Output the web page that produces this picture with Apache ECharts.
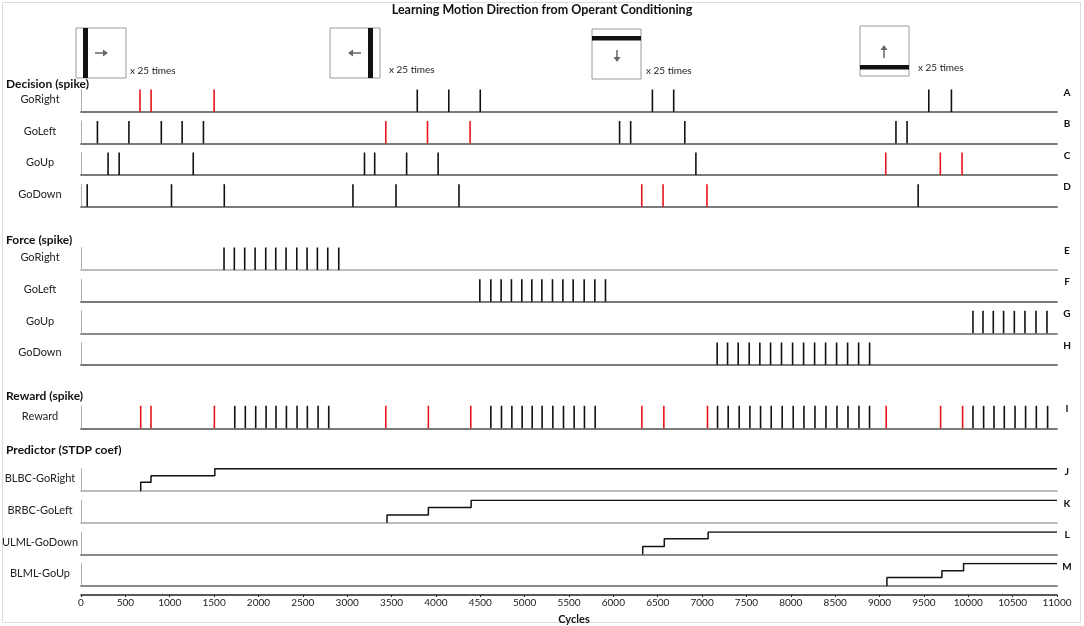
<!DOCTYPE html>
<html>
<head>
<meta charset="utf-8">
<script src="https://cdn.jsdelivr.net/npm/echarts@6/dist/echarts.min.js"></script>
<style>
  html, body { margin: 0; padding: 0; background: #fff; }
  #chart { width: 1084px; height: 626px; }
</style>
</head>
<body>
<div id="chart"></div>
<script>
// spike times (cycles)
var decRightBlack = [3790, 4145, 4500, 6440, 6680, 9555, 9810];
var decRightRed = [665, 790, 1500];
var decLeftBlack = [185, 540, 905, 1140, 1380, 6070, 6195, 6805, 9185, 9310];
var decLeftRed = [3435, 3905, 4385];
var decUpBlack = [305, 430, 1265, 3195, 3310, 3670, 4025, 6930];
var decUpRed = [9070, 9685, 9930];
var decDownBlack = [70, 1020, 1615, 3065, 3550, 4260, 9435];
var decDownRed = [6320, 6560, 7055];

var forceRight = [1612, 1728, 1845, 1962, 2082, 2195, 2311, 2432, 2548, 2664, 2781, 2905];
var forceLeft = [4495, 4619, 4735, 4851, 4968, 5081, 5194, 5314, 5431, 5547, 5671, 5791, 5911];
var forceUp = [10053, 10166, 10282, 10398, 10519, 10639, 10763, 10887];
var forceDown = [7170, 7287, 7407, 7531, 7651, 7772, 7895, 8020, 8144, 8268, 8392, 8516, 8640, 8764, 8888];

var rewardRed = [673, 789, 1503, 3435, 3915, 4393, 6321, 6569, 7061, 9075, 9688, 9936];
var rewardBlack = [1733, 1852, 1969, 2086, 2198, 2315, 2435, 2551, 2672, 2792,
  4619, 4739, 4856, 4972, 5085, 5197, 5318, 5438, 5558, 5674, 5795,
  7174, 7294, 7418, 7539, 7659, 7779, 7903, 8027, 8148, 8272, 8396, 8520, 8644, 8768, 8887,
  10053, 10173, 10290, 10406, 10527, 10646, 10767, 10894];

// predictor step times and levels
var stepJ = [673, 789, 1508];
var levelJ = [0.4, 0.69, 1];
var stepK = [3449, 3915, 4397];
var levelK = [0.35, 0.68, 1];
var stepL = [6331, 6574, 7068];
var levelL = [0.36, 0.7, 1];
var stepM = [9083, 9703, 9947];
var levelM = [0.38, 0.68, 1];

var rowLabels = ['GoRight', 'GoLeft', 'GoUp', 'GoDown', 'GoRight', 'GoLeft', 'GoUp', 'GoDown',
  'Reward', 'BLBC-GoRight', 'BRBC-GoLeft', 'ULML-GoDown', 'BLML-GoUp'];
var rowLetters = ['A', 'B', 'C', 'D', 'E', 'F', 'G', 'H', 'I', 'J', 'K', 'L', 'M'];
var xMax = 11000;
var xInterval = 500;

// layout
var rowBase = [112, 143.5, 175, 206.7, 270, 301.7, 333.3, 365, 428.3, 491.2, 522.8, 554.5, 586];
var rowH = 22.5;
var plotLeft = 81, plotWidth = 976;
var baseColors = ['#7a7a7a', '#7a7a7a', '#7a7a7a', '#7a7a7a', '#bdbdbd', '#7a7a7a', '#8a8a8a', '#7a7a7a',
  '#7a7a7a', '#bdbdbd', '#bdbdbd', '#8a8a8a', '#8a8a8a'];
var BLACK = '#111', RED = '#e8141b';
var FONT = 'Lato';

var chart = echarts.init(document.getElementById('chart'));

function pts(arr) {
  return arr.map(function (t) { return [t, 1]; });
}
function stepData(times, levels) {
  var d = [[times[0], 0]];
  for (var i = 0; i < times.length; i++) d.push([times[i], levels[i]]);
  d.push([xMax, levels[levels.length - 1]]);
  return d;
}
function spikeRender(params, api) {
  var x = api.value(0);
  var p0 = api.coord([x, 0]);
  var p1 = api.coord([x, 1]);
  return {
    type: 'line',
    shape: { x1: p0[0], y1: p0[1], x2: p1[0], y2: p1[1] },
    style: { stroke: api.visual('color'), lineWidth: 1.6 }
  };
}

var grids = [], xAxes = [], yAxes = [], series = [];
rowBase.forEach(function (b, i) {
  grids.push({ left: plotLeft, width: plotWidth, top: b - rowH, height: rowH });
  xAxes.push({
    gridIndex: i, type: 'value', min: 0, max: xMax,
    axisLine: { show: true, lineStyle: { color: baseColors[i], width: 1.8 } },
    axisTick: { show: false }, axisLabel: { show: false }, splitLine: { show: false }
  });
  yAxes.push({
    gridIndex: i, type: 'value', min: 0, max: 1,
    axisLine: { show: true, onZero: false, lineStyle: { color: '#b0b0b0', width: 1 } },
    axisTick: { show: false }, axisLabel: { show: false }, splitLine: { show: false }
  });
});

// bottom cycles axis
xAxes.push({
  gridIndex: 12, type: 'value', min: 0, max: xMax, interval: xInterval,
  position: 'bottom', offset: 9,
  axisLine: { show: true, lineStyle: { color: '#222', width: 1.5 } },
  axisTick: { show: true, length: 2, lineStyle: { color: '#222' } },
  axisLabel: { show: true, fontSize: 10, color: '#222', margin: 3, fontFamily: FONT,
    formatter: function (v) { return String(v); } },
  splitLine: { show: false },
  name: 'Cycles', nameLocation: 'middle', nameGap: 19,
  nameTextStyle: { fontSize: 11, fontWeight: 'bold', color: '#111', fontFamily: FONT, padding: [0, 0, 0, 10] }
});

function spikes(i, arr, color) {
  series.push({
    type: 'custom', xAxisIndex: i, yAxisIndex: i, renderItem: spikeRender,
    itemStyle: { color: color }, data: pts(arr), silent: true, z: 3
  });
}
spikes(0, decRightBlack, BLACK); spikes(0, decRightRed, RED);
spikes(1, decLeftBlack, BLACK); spikes(1, decLeftRed, RED);
spikes(2, decUpBlack, BLACK); spikes(2, decUpRed, RED);
spikes(3, decDownBlack, BLACK); spikes(3, decDownRed, RED);
spikes(4, forceRight, BLACK);
spikes(5, forceLeft, BLACK);
spikes(6, forceUp, BLACK);
spikes(7, forceDown, BLACK);
spikes(8, rewardBlack, BLACK); spikes(8, rewardRed, RED);

[[stepJ, levelJ], [stepK, levelK], [stepL, levelL], [stepM, levelM]].forEach(function (s, k) {
  var idx = 9 + k;
  series.push({
    type: 'line', xAxisIndex: idx, yAxisIndex: idx, step: 'end', showSymbol: false,
    lineStyle: { color: BLACK, width: 1.5 }, data: stepData(s[0], s[1]), silent: true, z: 3
  });
});

// graphics: title, headers, labels, letters, stimulus boxes
var g = [];
g.push({ type: 'rect', shape: { x: 2.5, y: 2.5, width: 1078, height: 620 }, style: { fill: 'none', stroke: '#dcdcdc', lineWidth: 1 }, silent: true });
g.push({ type: 'text', x: 542, y: 10, style: { text: 'Learning Motion Direction from Operant Conditioning', font: 'bold 12.5px ' + FONT, fill: '#111', textAlign: 'center', textVerticalAlign: 'middle' } });

var headers = [['Decision (spike)', 84], ['Force (spike)', 240], ['Reward (spike)', 396], ['Predictor (STDP coef)', 450]];
headers.forEach(function (h) {
  g.push({ type: 'text', x: 6, y: h[1], style: { text: h[0], font: 'bold 12px ' + FONT, fill: '#111', textVerticalAlign: 'middle' } });
});
rowLabels.forEach(function (lab, i) {
  g.push({ type: 'text', x: 40, y: rowBase[i] - rowH / 2 - 1, style: { text: lab, font: '11px ' + FONT, fill: '#222', textAlign: 'center', textVerticalAlign: 'middle' } });
  g.push({ type: 'text', x: 1067, y: rowBase[i] - rowH + 3, style: { text: rowLetters[i], font: 'bold 10px ' + FONT, fill: '#111', textAlign: 'center', textVerticalAlign: 'middle' } });
});

var boxStroke = '#9a9a9a', arrowCol = '#666';
function box(x, y, w, h) {
  g.push({ type: 'rect', shape: { x: x, y: y, width: w, height: h }, style: { fill: '#fff', stroke: boxStroke, lineWidth: 1 } });
}
function bar(x, y, w, h) {
  g.push({ type: 'rect', shape: { x: x, y: y, width: w, height: h }, style: { fill: '#111' } });
}
function arrow(x1, y1, x2, y2) {
  var dx = x2 - x1, dy = y2 - y1, len = Math.sqrt(dx * dx + dy * dy);
  var ux = dx / len, uy = dy / len, hl = 5, hw = 3.5;
  g.push({ type: 'line', shape: { x1: x1, y1: y1, x2: x2 - ux * hl, y2: y2 - uy * hl }, style: { stroke: arrowCol, lineWidth: 1.5 } });
  g.push({ type: 'polygon', shape: { points: [[x2, y2], [x2 - ux * hl - uy * hw, y2 - uy * hl + ux * hw], [x2 - ux * hl + uy * hw, y2 - uy * hl - ux * hw]] }, style: { fill: arrowCol } });
}
function times(x, y) {
  g.push({ type: 'text', x: x, y: y, style: { text: 'x 25 times', font: '10px ' + FONT, fill: '#222', textVerticalAlign: 'middle' } });
}
// right
box(76, 28, 50, 50); bar(83, 28, 5, 50); arrow(95, 53, 108, 53); times(130, 71);
// left
box(330, 28, 50, 50); bar(368, 28, 5, 50); arrow(361, 53, 348, 53); times(389, 70);
// down
box(592, 29, 49, 50); bar(592, 36, 49, 4.5); arrow(617, 50, 617, 62); times(646, 71);
// up
box(860, 26, 49, 50); bar(860, 65, 49, 4.5); arrow(884, 58, 884, 45); times(918, 68);

chart.setOption({
  animation: false,
  backgroundColor: '#fff',
  grid: grids,
  xAxis: xAxes,
  yAxis: yAxes,
  series: series,
  graphic: g
});
</script>
</body>
</html>
